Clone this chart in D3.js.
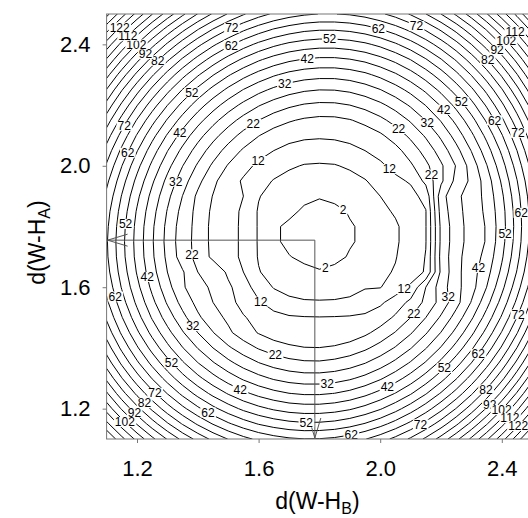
<!DOCTYPE html>
<html>
<head>
<meta charset="utf-8">
<script src="https://cdn.jsdelivr.net/npm/d3@7"></script>
<style>
  body { margin: 0; background: #fff; }
  svg { display: block; }
</style>
</head>
<body>
<div class="chart"></div>
<script>
// grid columns (d(W-H_B)) and rows (d(W-H_A)), rows listed from the top
var gridX = [1.10, 1.15, 1.20, 1.25, 1.30, 1.35, 1.40, 1.45, 1.50, 1.55, 1.60, 1.65, 1.70, 1.75, 1.80,
             1.85, 1.90, 1.95, 2.00, 2.05, 2.10, 2.15, 2.20, 2.25, 2.30, 2.35, 2.40, 2.45, 2.50];
var gridY = [2.50, 2.45, 2.40, 2.35, 2.30, 2.25, 2.20, 2.15, 2.10, 2.05, 2.00, 1.95, 1.90, 1.85, 1.80,
             1.75, 1.70, 1.65, 1.60, 1.55, 1.50, 1.45, 1.40, 1.35, 1.30, 1.25, 1.20, 1.15, 1.10];

// misfit, one row per gridY value
var misfitRows = [
  [138.7,129.2,120.4,112.2,104.8,98.0,91.8,86.4,81.6,77.5,74.0,71.2,69.1,67.7,66.9,66.9,67.5,68.9,71.1,73.9,77.5,81.9,87.0,92.8,99.3,106.6,114.6,123.4,132.9],
  [128.9,119.5,110.7,102.6,95.2,88.4,82.3,76.9,72.1,68.0,64.6,61.8,59.8,58.3,57.6,57.6,58.3,59.7,61.9,64.8,68.4,72.8,77.9,83.7,90.3,97.6,105.7,114.4,124.0],
  [119.9,110.4,101.7,93.6,86.2,79.5,73.4,68.0,63.3,59.2,55.8,53.1,51.0,49.7,49.0,49.0,49.7,51.1,53.3,56.3,59.9,64.3,69.5,75.3,82.0,89.3,97.4,106.2,115.7],
  [111.5,102.1,93.4,85.3,77.9,71.2,65.2,59.8,55.1,51.1,47.7,45.0,43.0,41.7,41.0,41.0,41.8,43.2,45.5,48.4,52.1,56.6,61.7,67.6,74.3,81.6,89.8,98.6,108.2],
  [103.7,94.4,85.7,77.7,70.3,63.6,57.6,52.3,47.6,43.6,40.3,37.6,35.6,34.3,33.7,33.7,34.5,36.0,38.3,41.3,45.0,49.5,54.7,60.6,67.3,74.7,82.8,91.7,101.3],
  [96.7,87.3,78.7,70.7,63.4,56.7,50.7,45.4,40.8,36.8,33.5,30.9,28.9,27.6,27.0,27.1,27.9,29.5,31.8,34.8,38.5,43.0,48.3,54.2,60.9,68.3,76.5,85.4,95.1],
  [90.3,81.0,72.3,64.4,57.1,50.5,44.5,39.2,34.6,30.7,27.4,24.8,22.9,21.6,21.0,21.1,22.0,23.6,25.9,28.9,32.7,37.2,42.5,48.5,55.2,62.7,70.9,79.8,89.5],
  [84.5,75.2,66.6,58.7,51.5,44.9,38.9,33.7,29.1,25.2,22.0,19.4,17.5,16.3,15.7,15.8,16.7,18.3,20.7,23.8,27.6,32.1,37.4,43.4,50.2,57.7,65.9,74.9,84.6],
  [79.4,70.2,61.6,53.7,46.5,39.9,34.0,28.8,24.3,20.4,17.2,14.7,13.5,12.9,12.7,12.9,13.5,14.4,16.2,19.3,23.1,27.7,33.0,39.1,45.9,53.4,61.6,70.6,80.4],
  [75.0,65.8,57.3,49.4,42.2,35.7,29.8,24.6,20.1,16.3,13.5,12.0,10.7,9.8,9.5,9.8,10.7,12.0,13.5,15.4,19.3,23.9,29.3,35.3,42.2,49.7,58.0,67.0,76.8],
  [71.3,62.1,53.6,45.8,38.6,32.1,26.3,21.1,16.6,13.3,11.2,9.2,7.7,6.7,6.5,6.7,7.7,9.2,11.2,13.3,16.2,20.8,26.2,32.3,39.1,46.7,55.0,64.1,73.9],
  [68.2,59.1,50.6,42.8,35.6,29.2,23.4,18.2,13.9,11.5,8.9,6.7,5.3,4.4,4.1,4.4,5.3,6.7,8.9,11.0,12.5,18.3,26.0,33.5,38.0,44.4,52.7,61.8,71.6],
  [65.8,56.7,48.2,40.4,33.3,26.9,21.0,16.8,13.5,12.0,7.3,5.0,3.6,2.6,2.2,2.6,3.6,5.0,7.0,9.0,10.5,13.5,30.0,36.0,39.0,43.5,51.1,60.2,70.1],
  [64.0,55.0,46.5,38.8,31.7,25.3,20.5,16.0,13.2,11.5,6.5,4.0,2.6,1.6,1.1,1.4,2.2,3.8,5.9,7.5,9.5,11.8,29.0,35.5,39.0,43.0,50.1,59.3,69.2],
  [63.0,53.9,45.5,37.8,30.7,24.4,20.5,15.5,13.0,11.5,6.5,2.4,1.5,0.8,0.5,0.8,1.8,2.4,5.3,6.4,8.9,11.8,28.0,35.0,38.9,42.4,49.8,59.0,68.9],
  [62.5,53.5,45.2,37.5,30.4,24.1,20.5,15.5,13.0,11.5,6.5,2.4,1.5,0.8,0.5,0.8,1.8,2.4,5.3,6.4,8.9,11.8,28.0,35.0,38.9,42.4,50.2,59.4,69.3],
  [62.8,53.8,45.5,37.8,30.9,24.5,20.5,15.8,13.0,11.5,6.6,3.5,2.1,1.5,1.1,1.4,2.2,3.8,5.9,6.8,9.0,12.2,28.5,35.5,39.5,43.5,51.3,60.5,70.5],
  [63.8,54.9,46.6,38.9,32.0,27.5,22.0,21.0,16.0,12.0,7.3,5.0,3.6,2.6,2.2,2.6,3.6,5.0,6.2,7.3,9.5,12.5,28.0,35.5,40.0,45.0,53.1,62.3,72.3],
  [65.6,56.6,48.4,40.8,33.8,27.6,24.0,21.0,18.0,14.0,10.0,6.7,5.3,4.4,4.1,4.4,5.3,6.7,6.8,9.5,12.8,22.0,29.5,35.5,40.0,47.0,55.6,64.9,74.9],
  [68.0,59.1,50.9,43.3,36.4,30.2,25.5,22.0,19.0,15.0,12.5,10.0,8.2,7.6,7.5,7.6,8.0,9.2,11.2,14.1,18.3,23.2,28.8,35.2,42.3,50.2,58.8,68.1,78.2],
  [71.2,62.3,54.1,46.5,39.7,33.5,27.9,24.0,21.0,17.5,15.0,13.5,12.6,12.3,12.2,12.3,12.5,13.0,14.4,17.8,22.0,27.0,32.7,39.1,46.2,54.1,62.7,72.1,82.2],
  [75.0,66.2,58.0,50.5,43.7,37.5,32.0,27.2,23.0,19.5,16.7,14.5,13.5,12.9,12.7,12.9,14.0,16.0,18.8,22.3,26.5,31.5,37.2,43.6,50.8,58.7,67.4,76.7,86.9],
  [79.6,70.8,62.7,55.2,48.4,42.2,36.8,32.0,27.8,24.4,21.6,19.5,18.0,17.2,17.1,17.7,19.0,21.1,23.9,27.4,31.7,36.7,42.4,48.9,56.1,64.1,72.7,82.1,92.3],
  [84.9,76.1,68.0,60.6,53.8,47.7,42.2,37.5,33.4,29.9,27.2,25.1,23.7,22.9,22.8,23.5,24.8,26.9,29.7,33.3,37.6,42.6,48.4,54.9,62.1,70.1,78.8,88.3,98.4],
  [90.9,82.2,74.1,66.7,59.9,53.8,48.4,43.7,39.6,36.2,33.5,31.4,30.0,29.3,29.3,29.9,31.3,33.4,36.3,39.9,44.2,49.3,55.1,61.6,68.9,76.9,85.6,95.1,105.3],
  [97.7,88.9,80.9,73.5,66.8,60.7,55.3,50.6,46.6,43.2,40.5,38.5,37.1,36.4,36.4,37.1,38.5,40.7,43.6,47.2,51.5,56.6,62.5,69.0,76.3,84.3,93.1,102.6,112.9],
  [105.1,96.4,88.4,81.0,74.3,68.3,63.0,58.3,54.3,50.9,48.3,46.3,44.9,44.3,44.3,45.0,46.4,48.6,51.5,55.2,59.6,64.7,70.6,77.2,84.5,92.5,101.3,110.9,121.1],
  [113.3,104.6,96.6,89.3,82.6,76.6,71.3,66.7,62.7,59.4,56.7,54.8,53.5,52.8,52.9,53.6,55.1,57.3,60.2,63.9,68.3,73.5,79.4,86.0,93.4,101.5,110.3,119.8,130.1],
  [122.1,113.5,105.5,98.2,91.6,85.6,80.4,75.7,71.8,68.5,65.9,64.0,62.7,62.1,62.2,62.9,64.4,66.7,69.7,73.4,77.8,83.0,88.9,95.6,103.0,111.1,119.9,129.5,139.9]
];

var contourLevels = [2, 7, 12, 17, 22, 27, 32, 37, 42, 47, 52, 57, 62, 67, 72, 77, 82, 87, 92, 97,
                     102, 107, 112, 117, 122, 127, 132, 137];
var tickValues = [1.2, 1.6, 2.0, 2.4];
var bestFit = [1.785, 1.755];
var fieldCenter = [1.80, 1.775];
// [contour level, direction from the centre in degrees] for the inline labels
var labelSpots = [
  [2, 46], [2, -80],
  [12, 130], [12, 43], [12, -33], [12, -131],
  [22, 121], [22, 53], [22, 28], [22, -40], [22, -110], [22, -171],
  [32, 160], [32, 103], [32, 46], [32, -26], [32, -87], [32, -144],
  [42, 144], [42, 94], [42, 45], [42, -12], [42, -66], [42, -117], [42, -166],
  [52, 177], [52, 132], [52, 87], [52, 43], [52, 0], [52, -47], [52, -94], [52, -139],
  [62, 157], [62, 115], [62, 74], [62, 33], [62, 6], [62, -37], [62, -81], [62, -122], [62, -163],
  [72, 151], [72, 113], [72, 65], [72, 27], [72, -22], [72, -62], [72, -136],
  [82, 133], [82, 46], [82, -43], [82, -136],
  [92, 134], [92, 46], [92, -45], [92, -136],
  [102, 134], [102, 46], [102, -44], [102, -136],
  [112, 134], [112, 46], [112, -44],
  [122, 134], [122, -44]
];

var svgWidth = 528;
var svgHeight = 518;

var svg = d3.select(".chart")
    .append("svg")
    .attr("width", svgWidth)
    .attr("height", svgHeight);

// scales
var xScale = d3.scaleLinear().domain([1.1, 2.5]).range([106.6, 532.2]);
var yScale = d3.scaleLinear().domain([1.1, 2.5]).range([439, 14]);

var x0 = xScale(1.1), x1 = xScale(2.5), y0 = yScale(2.5), y1 = yScale(1.1);

svg.append("clipPath").attr("id", "plotClip")
  .append("rect")
    .attr("x", x0).attr("y", y0)
    .attr("width", x1 - x0).attr("height", y1 - y0);

// grid index -> page position (values sit at cell centres in d3.contours)
var colToX = d3.scaleLinear().domain([0.5, gridX.length - 0.5])
    .range([xScale(gridX[0]), xScale(gridX[gridX.length - 1])]);
var rowToY = d3.scaleLinear().domain([0.5, gridY.length - 0.5])
    .range([yScale(gridY[0]), yScale(gridY[gridY.length - 1])]);

var toPlot = d3.geoTransform({
  point: function(c, r) { this.stream.point(colToX(c), rowToY(r)); }
});
var path = d3.geoPath(toPlot);

var contours = d3.contours()
    .size([gridX.length, gridY.length])
    .thresholds(contourLevels)(misfitRows.flat());

var plot = svg.append("g").attr("clip-path", "url(#plotClip)");

plot.selectAll("path.iso")
    .data(contours)
    .enter()
    .append("path")
    .attr("class", "iso")
    .attr("d", path)
    .attr("fill", "none")
    .attr("stroke", "#000")
    .attr("stroke-width", 1)
    .attr("stroke-linejoin", "round");

// best fit cross with open arrow heads at the axes
var bx = xScale(bestFit[0]), by = yScale(bestFit[1]);
var cross = svg.append("g")
    .attr("fill", "none")
    .attr("stroke", "#555")
    .attr("stroke-width", 1);
cross.append("path").attr("d", `M${x0},${by}H${bx}V${y1}`);
cross.append("path").attr("d", `M${x0 + 21},${by - 6}L${x0 + 1},${by}L${x0 + 21},${by + 6}`);
cross.append("path").attr("d", `M${bx - 6},${y1 - 21}L${bx},${y1 - 1}L${bx + 6},${y1 - 21}`);

// inline labels: where each labelled contour meets a ray from the centre
var cx = xScale(fieldCenter[0]), cy = yScale(fieldCenter[1]);

function rayHit(level, angle) {
  var c = contours.find(d => d.value === level);
  if (!c) return null;
  var a = angle * Math.PI / 180;
  var dx = Math.cos(a), dy = -Math.sin(a);
  var best = null;
  c.coordinates.forEach(function(poly) {
    poly.forEach(function(ring) {
      for (var i = 0; i < ring.length - 1; i++) {
        var px = colToX(ring[i][0]), py = rowToY(ring[i][1]);
        var qx = colToX(ring[i + 1][0]), qy = rowToY(ring[i + 1][1]);
        var ex = qx - px, ey = qy - py;
        var den = dx * ey - dy * ex;
        if (Math.abs(den) < 1e-9) continue;
        var wx = px - cx, wy = py - cy;
        var t = (wx * ey - wy * ex) / den;
        var s = (wx * dy - wy * dx) / den;
        if (t <= 0 || s < 0 || s > 1) continue;
        var hx = cx + t * dx, hy = cy + t * dy;
        if (hx < x0 + 2 || hx > x1 - 2 || hy < y0 + 2 || hy > y1 - 2) continue;
        if (!best || t < best.t) best = {t: t, x: hx, y: hy};
      }
    });
  });
  return best;
}

var labelLayer = svg.append("g").attr("clip-path", "url(#plotClip)");
labelSpots.forEach(function(spot) {
  var hit = rayHit(spot[0], spot[1]);
  if (!hit) return;
  var g = labelLayer.append("g");
  var t = g.append("text")
      .attr("x", hit.x)
      .attr("y", hit.y)
      .attr("dy", "0.36em")
      .attr("text-anchor", "middle")
      .style("font-family", "'Liberation Sans', Arial, sans-serif")
      .style("font-size", "12px")
      .text(spot[0]);
  var bb = t.node().getBBox();
  g.insert("rect", "text")
      .attr("x", bb.x - 1)
      .attr("y", hit.y - 5)
      .attr("width", bb.width + 2)
      .attr("height", 10)
      .attr("fill", "#fff");
});

// frame
svg.append("rect")
    .attr("x", x0).attr("y", y0)
    .attr("width", x1 - x0).attr("height", y1 - y0)
    .attr("fill", "none")
    .attr("stroke", "#777")
    .attr("stroke-width", 1);

// axes
var bottomAxis = d3.axisBottom(xScale).tickValues(tickValues).tickSize(4).tickPadding(17)
    .tickFormat(d3.format(".1f"));
var leftAxis = d3.axisLeft(yScale).tickValues(tickValues).tickSize(4).tickPadding(12)
    .tickFormat(d3.format(".1f"));

var xAxisG = svg.append("g").attr("transform", `translate(0, ${y1})`).call(bottomAxis);
var yAxisG = svg.append("g").attr("transform", `translate(${x0}, 0)`).call(leftAxis);
[xAxisG, yAxisG].forEach(function(g) {
  g.select(".domain").remove();
  g.selectAll("line").attr("stroke", "#777");
  g.selectAll("text")
    .style("font-family", "'Liberation Sans', Arial, sans-serif")
    .style("font-size", "22px")
    .attr("fill", "#000");
});

// axis titles
var xTitle = svg.append("text")
    .attr("x", (x0 + x1) / 2 - 2)
    .attr("y", 509)
    .attr("text-anchor", "middle")
    .style("font-family", "'Liberation Sans', Arial, sans-serif")
    .style("font-size", "23px");
xTitle.append("tspan").text("d(W-H");
xTitle.append("tspan").attr("baseline-shift", "-30%").style("font-size", "16px").text("B");
xTitle.append("tspan").text(")");

var yTitle = svg.append("text")
    .attr("transform", `translate(45, ${(y0 + y1) / 2 + 16}) rotate(-90)`)
    .attr("text-anchor", "middle")
    .style("font-family", "'Liberation Sans', Arial, sans-serif")
    .style("font-size", "23px");
yTitle.append("tspan").text("d(W-H");
yTitle.append("tspan").attr("baseline-shift", "-30%").style("font-size", "16px").text("A");
yTitle.append("tspan").text(")");
</script>
</body>
</html>
